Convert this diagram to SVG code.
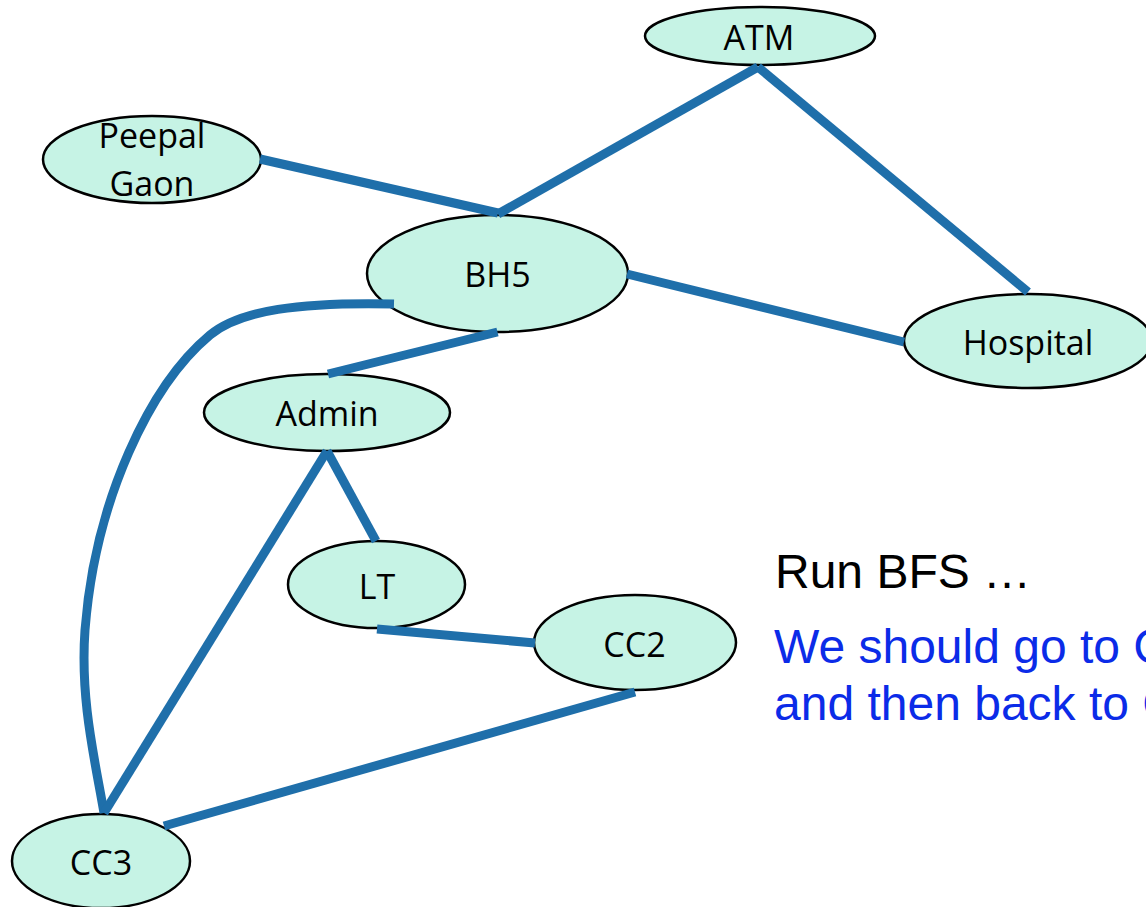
<svg xmlns="http://www.w3.org/2000/svg" width="1146" height="907" viewBox="0 0 1146 907">
<style>
.node ellipse{fill:#c6f3e5;stroke:#000;stroke-width:2.5}
.node text{font-family:"Open Sans","Noto Sans",sans-serif;font-size:34px;fill:#000;text-anchor:middle}
.edges line,.edges path{stroke:#1f6faa;stroke-width:9;fill:none;stroke-linecap:butt}
.note{font-family:"Liberation Sans",Arial,sans-serif;font-size:48px}
</style>
<rect width="1146" height="907" fill="#fff"/>
<g id="node-atm" class="node"><ellipse cx="760" cy="36" rx="115" ry="29"/><text x="759" y="50">ATM</text></g>
<g id="node-peepal" class="node"><ellipse cx="152" cy="159.5" rx="109" ry="43.5"/><text x="152" y="148">Peepal</text><text x="152" y="196">Gaon</text></g>
<g id="node-bh5" class="node"><ellipse cx="497.5" cy="273.5" rx="130.5" ry="58.5"/><text x="497.5" y="287">BH5</text></g>
<g id="node-hospital" class="node"><ellipse cx="1028" cy="341" rx="124" ry="47"/><text x="1028" y="355">Hospital</text></g>
<g id="node-admin" class="node"><ellipse cx="327" cy="412.5" rx="123" ry="38.5"/><text x="327" y="426">Admin</text></g>
<g id="node-lt" class="node"><ellipse cx="376.5" cy="584.5" rx="88.5" ry="43.5"/><text x="377" y="599">LT</text></g>
<g id="node-cc2" class="node"><ellipse cx="635" cy="642.5" rx="101" ry="47.5"/><text x="634.5" y="657">CC2</text></g>
<g id="node-cc3" class="node"><ellipse cx="101" cy="861" rx="89" ry="47"/><text x="101" y="875">CC3</text></g>
<g id="edges" class="edges">
<line x1="260" y1="159" x2="498" y2="213"/>
<line x1="498" y1="214" x2="758" y2="67"/>
<line x1="758" y1="67" x2="1028" y2="292"/>
<line x1="627" y1="274" x2="904" y2="342"/>
<line x1="497.5" y1="332" x2="328" y2="374"/>
<path d="M394 304 C300 302 240 310 210 335 C150 385 95 500 85 630 C80 700 95 760 104 813"/>
<line x1="327" y1="451" x2="376" y2="541"/>
<line x1="327" y1="451" x2="104" y2="813"/>
<line x1="377" y1="629" x2="535" y2="643"/>
<line x1="164" y1="826" x2="635" y2="692"/>
</g>
<text class="note" x="775" y="588" fill="#000">Run BFS …</text>
<text class="note" x="774" y="663" fill="#0b2be8">We should go to C</text>
<text class="note" x="774" y="720" fill="#0b2be8">and then back to C</text>
</svg>
